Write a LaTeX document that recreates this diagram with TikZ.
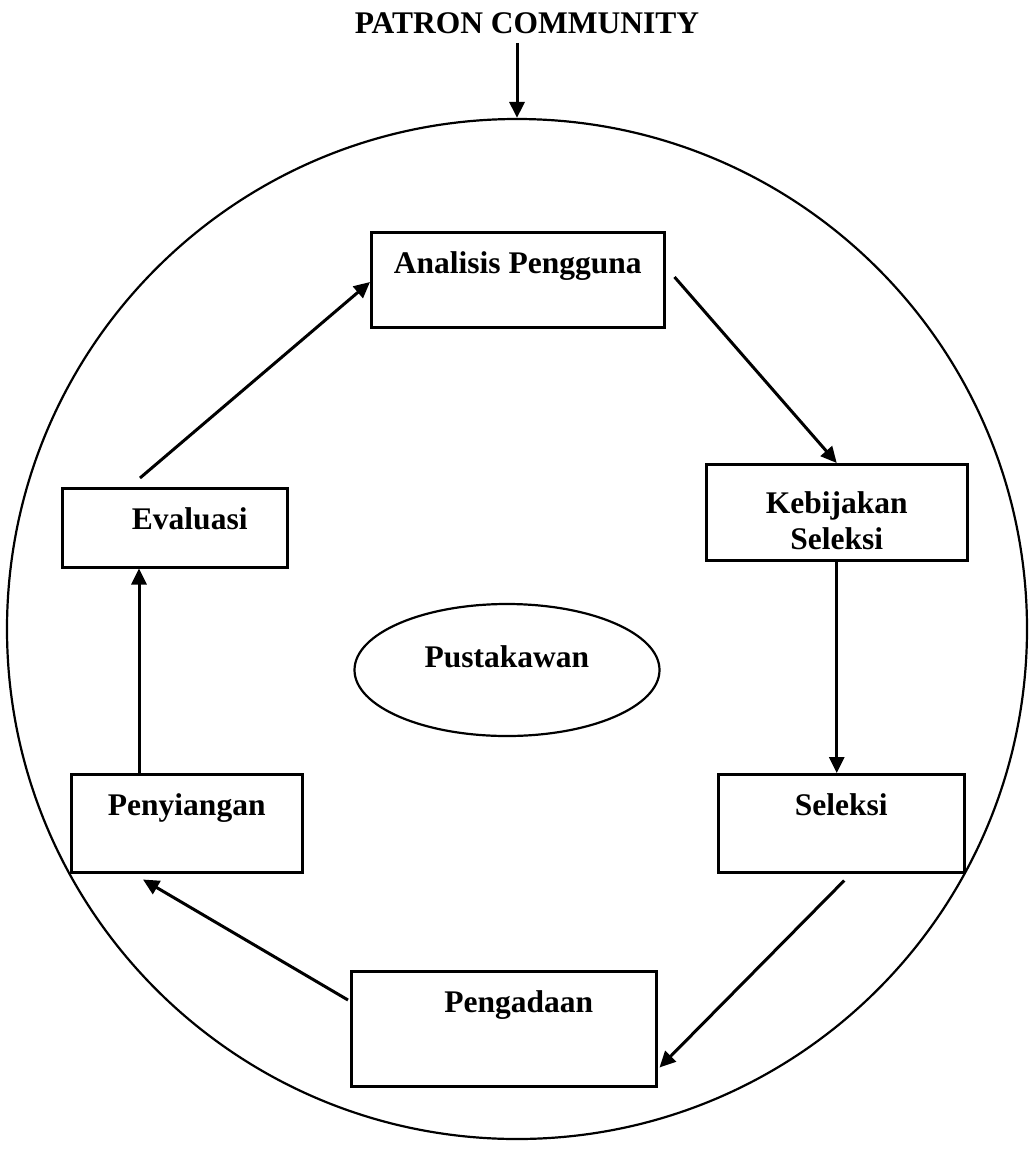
\documentclass[tikz,border=0pt]{standalone}
\usepackage{fontspec}
\setmainfont{Liberation Serif}
\usetikzlibrary{shapes,arrows.meta,positioning,calc}
\newcommand{\diafont}{\fontsize{31.5pt}{36pt}\selectfont\bfseries}
\tikzset{
    block/.style={rectangle, draw, line width=2.5pt, inner sep=0pt, text height=41pt, anchor=north west, font=\diafont},
    line/.style={draw, line width=3pt, -{Triangle[length=16pt,width=15pt]}},
    oval/.style={ellipse, draw, line width=2.2pt, minimum width=305pt, minimum height=132pt, text height=22pt, text depth=28pt, font=\diafont},
    ring/.style={circle, draw, line width=2.2pt, minimum size=1020pt, inner sep=0pt}
}
\begin{document}
\begin{tikzpicture}[x=1pt, y=-1pt]
    \useasboundingbox (0,0) rectangle (1035,1152);

    % Community around the library
    \node [font=\diafont, inner sep=0pt] (title) at (527,23) {PATRON COMMUNITY};
    \node [ring] (patron) at (517,629) {};
    \path [line] ([yshift=-9pt]title.south -| patron.north) -- (patron.north);

    % Cycle of collection development
    \node [block, minimum width=293pt, text depth=54pt] (analisis) at (370,231) {Analisis Pengguna};
    \node [block, minimum width=261pt, minimum height=96pt, text height={}, align=center] (kebijakan) at (705,463) {\rule{0pt}{38pt}Kebijakan\\Seleksi};
    \node [block, minimum width=246pt, text depth=57pt] (seleksi) at (717,773) {Seleksi};
    \node [block, minimum width=305pt, text depth=74pt] (pengadaan) at (350,970) {\hspace*{30pt}Pengadaan};
    \node [block, minimum width=231pt, text depth=57pt] (penyiangan) at (70,773) {Penyiangan};
    \node [block, minimum width=225pt, text depth=38pt] (evaluasi) at (61,487) {\hspace*{30pt}Evaluasi};

    % Librarian in the middle
    \node [oval] (pustakawan) at (507,670) {Pustakawan};

    % Connections
    \path [line] ([xshift=79pt,yshift=9pt]evaluasi.north west) -- ([yshift=-51pt]analisis.north west);
    \path [line] ([xshift=9pt,yshift=-46pt]analisis.north east) -- (kebijakan.north);
    \path [line] (kebijakan.south) -- (kebijakan.south |- seleksi.north);
    \path [line] ([xshift=3pt,yshift=-7pt]seleksi.south) -- ([xshift=2pt,yshift=20pt]pengadaan.south east);
    \path [line] ([xshift=-2pt,yshift=-30pt]pengadaan.north west) -- ([xshift=73pt,yshift=-6pt]penyiangan.south west);
    \path [line] ([xshift=69pt]penyiangan.north west) -- ([xshift=78pt]evaluasi.south west);
\end{tikzpicture}
\end{document}
